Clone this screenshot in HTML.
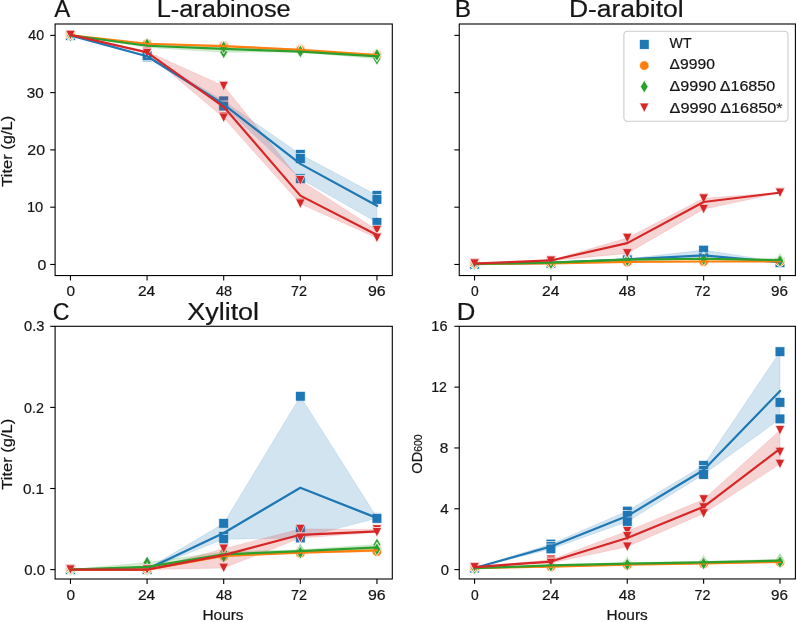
<!DOCTYPE html>
<html><head><meta charset="utf-8"><title>Figure</title><style>
html,body{margin:0;padding:0;background:#fff;}
svg{display:block;}
text{font-family:"Liberation Sans",sans-serif;fill:#151515;stroke:#151515;stroke-width:0.2px;}
.tk{font-size:14.1px;}
.lb{font-size:14.1px;}
.lg{font-size:14.1px;}
.tt{font-size:23.0px;}
</style></head>
<body>
<svg width="797" height="622" viewBox="0 0 797 622">
<rect width="797" height="622" fill="#fff"/>
<g style="will-change:transform">
<clipPath id="clipA"><rect x="55.1" y="24" width="337.2" height="251.57"/></clipPath>
<g clip-path="url(#clipA)">
<rect x="65.57" y="30.48" width="9.79" height="9.79" fill="#1f77b4" stroke="#fff" stroke-width="0.7"/>
<rect x="65.57" y="30.48" width="9.79" height="9.79" fill="#1f77b4" stroke="#fff" stroke-width="0.7"/>
<rect x="65.57" y="30.48" width="9.79" height="9.79" fill="#1f77b4" stroke="#fff" stroke-width="0.7"/>
<rect x="142.19" y="52.24" width="9.79" height="9.79" fill="#1f77b4" stroke="#fff" stroke-width="0.7"/>
<rect x="142.19" y="51.38" width="9.79" height="9.79" fill="#1f77b4" stroke="#fff" stroke-width="0.7"/>
<rect x="142.19" y="50.52" width="9.79" height="9.79" fill="#1f77b4" stroke="#fff" stroke-width="0.7"/>
<rect x="218.81" y="96" width="9.79" height="9.79" fill="#1f77b4" stroke="#fff" stroke-width="0.7"/>
<rect x="218.81" y="101.04" width="9.79" height="9.79" fill="#1f77b4" stroke="#fff" stroke-width="0.7"/>
<rect x="218.81" y="101.15" width="9.79" height="9.79" fill="#1f77b4" stroke="#fff" stroke-width="0.7"/>
<rect x="295.43" y="149.43" width="9.79" height="9.79" fill="#1f77b4" stroke="#fff" stroke-width="0.7"/>
<rect x="295.43" y="153.61" width="9.79" height="9.79" fill="#1f77b4" stroke="#fff" stroke-width="0.7"/>
<rect x="295.43" y="173.83" width="9.79" height="9.79" fill="#1f77b4" stroke="#fff" stroke-width="0.7"/>
<rect x="372.06" y="190.44" width="9.79" height="9.79" fill="#1f77b4" stroke="#fff" stroke-width="0.7"/>
<rect x="372.06" y="194.45" width="9.79" height="9.79" fill="#1f77b4" stroke="#fff" stroke-width="0.7"/>
<rect x="372.06" y="217.53" width="9.79" height="9.79" fill="#1f77b4" stroke="#fff" stroke-width="0.7"/>
<polygon points="70.46,35.37 147.08,55.41 223.7,100.89 300.33,154.32 376.95,195.33 376.95,222.42 300.33,178.72 223.7,106.04 147.08,57.13 70.46,35.37" fill="#1f77b4" fill-opacity="0.2" stroke="#1f77b4" stroke-opacity="0.12" stroke-width="1"/>
<circle cx="70.46" cy="35.08" r="4.75" fill="#ff7f0e" stroke="#fff" stroke-width="0.7"/>
<circle cx="70.46" cy="35.37" r="4.75" fill="#ff7f0e" stroke="#fff" stroke-width="0.7"/>
<circle cx="70.46" cy="35.37" r="4.75" fill="#ff7f0e" stroke="#fff" stroke-width="0.7"/>
<circle cx="147.08" cy="43.39" r="4.75" fill="#ff7f0e" stroke="#fff" stroke-width="0.7"/>
<circle cx="147.08" cy="43.96" r="4.75" fill="#ff7f0e" stroke="#fff" stroke-width="0.7"/>
<circle cx="147.08" cy="43.96" r="4.75" fill="#ff7f0e" stroke="#fff" stroke-width="0.7"/>
<circle cx="223.7" cy="45.39" r="4.75" fill="#ff7f0e" stroke="#fff" stroke-width="0.7"/>
<circle cx="223.7" cy="46.25" r="4.75" fill="#ff7f0e" stroke="#fff" stroke-width="0.7"/>
<circle cx="223.7" cy="46.54" r="4.75" fill="#ff7f0e" stroke="#fff" stroke-width="0.7"/>
<circle cx="300.33" cy="49.11" r="4.75" fill="#ff7f0e" stroke="#fff" stroke-width="0.7"/>
<circle cx="300.33" cy="49.97" r="4.75" fill="#ff7f0e" stroke="#fff" stroke-width="0.7"/>
<circle cx="300.33" cy="50.26" r="4.75" fill="#ff7f0e" stroke="#fff" stroke-width="0.7"/>
<circle cx="376.95" cy="54.27" r="4.75" fill="#ff7f0e" stroke="#fff" stroke-width="0.7"/>
<circle cx="376.95" cy="55.13" r="4.75" fill="#ff7f0e" stroke="#fff" stroke-width="0.7"/>
<circle cx="376.95" cy="55.99" r="4.75" fill="#ff7f0e" stroke="#fff" stroke-width="0.7"/>
<polygon points="70.46,35.08 147.08,43.39 223.7,45.39 300.33,49.11 376.95,54.27 376.95,55.99 300.33,50.26 223.7,46.54 147.08,43.96 70.46,35.37" fill="#ff7f0e" fill-opacity="0.2" stroke="#ff7f0e" stroke-opacity="0.12" stroke-width="1"/>
<polygon points="70.46,28.99 74.29,35.37 70.46,41.75 66.63,35.37" fill="#2ca02c" stroke="#fff" stroke-width="0.7"/>
<polygon points="70.46,28.99 74.29,35.37 70.46,41.75 66.63,35.37" fill="#2ca02c" stroke="#fff" stroke-width="0.7"/>
<polygon points="70.46,28.99 74.29,35.37 70.46,41.75 66.63,35.37" fill="#2ca02c" stroke="#fff" stroke-width="0.7"/>
<polygon points="147.08,41.01 150.91,47.4 147.08,53.78 143.25,47.4" fill="#2ca02c" stroke="#fff" stroke-width="0.7"/>
<polygon points="147.08,39.3 150.91,45.68 147.08,52.06 143.25,45.68" fill="#2ca02c" stroke="#fff" stroke-width="0.7"/>
<polygon points="147.08,37.86 150.91,44.25 147.08,50.63 143.25,44.25" fill="#2ca02c" stroke="#fff" stroke-width="0.7"/>
<polygon points="223.7,45.88 227.53,52.26 223.7,58.65 219.88,52.26" fill="#2ca02c" stroke="#fff" stroke-width="0.7"/>
<polygon points="223.7,41.01 227.53,47.4 223.7,53.78 219.88,47.4" fill="#2ca02c" stroke="#fff" stroke-width="0.7"/>
<polygon points="223.7,40.67 227.53,47.05 223.7,53.43 219.88,47.05" fill="#2ca02c" stroke="#fff" stroke-width="0.7"/>
<polygon points="300.33,45.6 304.16,51.98 300.33,58.36 296.5,51.98" fill="#2ca02c" stroke="#fff" stroke-width="0.7"/>
<polygon points="300.33,45.02 304.16,51.4 300.33,57.79 296.5,51.4" fill="#2ca02c" stroke="#fff" stroke-width="0.7"/>
<polygon points="300.33,45.02 304.16,51.4 300.33,57.79 296.5,51.4" fill="#2ca02c" stroke="#fff" stroke-width="0.7"/>
<polygon points="376.95,52.47 380.78,58.85 376.95,65.23 373.12,58.85" fill="#2ca02c" stroke="#fff" stroke-width="0.7"/>
<polygon points="376.95,49.03 380.78,55.41 376.95,61.8 373.12,55.41" fill="#2ca02c" stroke="#fff" stroke-width="0.7"/>
<polygon points="376.95,48.46 380.78,54.84 376.95,61.22 373.12,54.84" fill="#2ca02c" stroke="#fff" stroke-width="0.7"/>
<polygon points="70.46,35.37 147.08,44.25 223.7,47.05 300.33,51.4 376.95,54.84 376.95,58.85 300.33,51.98 223.7,52.26 147.08,47.4 70.46,35.37" fill="#2ca02c" fill-opacity="0.2" stroke="#2ca02c" stroke-opacity="0.12" stroke-width="1"/>
<polygon points="65.71,30.05 75.21,30.05 70.46,39.55" fill="#d62728" stroke="#fff" stroke-width="0.7"/>
<polygon points="65.71,30.05 75.21,30.05 70.46,39.55" fill="#d62728" stroke="#fff" stroke-width="0.7"/>
<polygon points="65.71,30.33 75.21,30.33 70.46,39.83" fill="#d62728" stroke="#fff" stroke-width="0.7"/>
<polygon points="142.33,46.65 151.83,46.65 147.08,56.15" fill="#d62728" stroke="#fff" stroke-width="0.7"/>
<polygon points="142.33,47.8 151.83,47.8 147.08,57.3" fill="#d62728" stroke="#fff" stroke-width="0.7"/>
<polygon points="142.33,48.37 151.83,48.37 147.08,57.87" fill="#d62728" stroke="#fff" stroke-width="0.7"/>
<polygon points="218.95,81.25 228.45,81.25 223.7,90.75" fill="#d62728" stroke="#fff" stroke-width="0.7"/>
<polygon points="218.95,111.95 228.45,111.95 223.7,121.45" fill="#d62728" stroke="#fff" stroke-width="0.7"/>
<polygon points="218.95,113.09 228.45,113.09 223.7,122.59" fill="#d62728" stroke="#fff" stroke-width="0.7"/>
<polygon points="295.58,175.52 305.08,175.52 300.33,185.02" fill="#d62728" stroke="#fff" stroke-width="0.7"/>
<polygon points="295.58,198.14 305.08,198.14 300.33,207.64" fill="#d62728" stroke="#fff" stroke-width="0.7"/>
<polygon points="295.58,199 305.08,199 300.33,208.5" fill="#d62728" stroke="#fff" stroke-width="0.7"/>
<polygon points="372.2,225.35 381.7,225.35 376.95,234.85" fill="#d62728" stroke="#fff" stroke-width="0.7"/>
<polygon points="372.2,232.51 381.7,232.51 376.95,242.01" fill="#d62728" stroke="#fff" stroke-width="0.7"/>
<polygon points="372.2,233.14 381.7,233.14 376.95,242.64" fill="#d62728" stroke="#fff" stroke-width="0.7"/>
<polygon points="70.46,34.8 147.08,51.4 223.7,86 300.33,180.27 376.95,230.1 376.95,237.89 300.33,203.75 223.7,117.84 147.08,53.12 70.46,35.08" fill="#d62728" fill-opacity="0.2" stroke="#d62728" stroke-opacity="0.12" stroke-width="1"/>
<polyline points="70.46,35.37 147.08,56.27 223.7,104.29 300.33,163.85 376.95,205.7" fill="none" stroke="#1f77b4" stroke-width="2.2" stroke-linejoin="round" stroke-linecap="square"/>
<polyline points="70.46,35.27 147.08,43.77 223.7,46.06 300.33,49.78 376.95,55.13" fill="none" stroke="#ff7f0e" stroke-width="2.2" stroke-linejoin="round" stroke-linecap="square"/>
<polyline points="70.46,35.37 147.08,45.77 223.7,48.9 300.33,51.6 376.95,56.37" fill="none" stroke="#2ca02c" stroke-width="2.2" stroke-linejoin="round" stroke-linecap="square"/>
<polyline points="70.46,34.89 147.08,52.36 223.7,106.84 300.33,195.64 376.95,235.08" fill="none" stroke="#d62728" stroke-width="2.2" stroke-linejoin="round" stroke-linecap="square"/>
</g>
<rect x="55.1" y="24" width="337.2" height="251.57" fill="none" stroke="#000" stroke-width="1.1"/>
<line x1="70.46" y1="275.57" x2="70.46" y2="280.47" stroke="#000" stroke-width="1.1"/>
<line x1="147.08" y1="275.57" x2="147.08" y2="280.47" stroke="#000" stroke-width="1.1"/>
<line x1="223.7" y1="275.57" x2="223.7" y2="280.47" stroke="#000" stroke-width="1.1"/>
<line x1="300.33" y1="275.57" x2="300.33" y2="280.47" stroke="#000" stroke-width="1.1"/>
<line x1="376.95" y1="275.57" x2="376.95" y2="280.47" stroke="#000" stroke-width="1.1"/>
<clipPath id="clipB"><rect x="459.25" y="24" width="336.15" height="251.57"/></clipPath>
<g clip-path="url(#clipB)">
<rect x="469.67" y="258.99" width="9.79" height="9.79" fill="#1f77b4" stroke="#fff" stroke-width="0.7"/>
<rect x="469.67" y="259.28" width="9.79" height="9.79" fill="#1f77b4" stroke="#fff" stroke-width="0.7"/>
<rect x="469.67" y="259.28" width="9.79" height="9.79" fill="#1f77b4" stroke="#fff" stroke-width="0.7"/>
<rect x="546.02" y="257.56" width="9.79" height="9.79" fill="#1f77b4" stroke="#fff" stroke-width="0.7"/>
<rect x="546.02" y="258.14" width="9.79" height="9.79" fill="#1f77b4" stroke="#fff" stroke-width="0.7"/>
<rect x="546.02" y="258.42" width="9.79" height="9.79" fill="#1f77b4" stroke="#fff" stroke-width="0.7"/>
<rect x="622.38" y="253.84" width="9.79" height="9.79" fill="#1f77b4" stroke="#fff" stroke-width="0.7"/>
<rect x="622.38" y="254.41" width="9.79" height="9.79" fill="#1f77b4" stroke="#fff" stroke-width="0.7"/>
<rect x="622.38" y="254.99" width="9.79" height="9.79" fill="#1f77b4" stroke="#fff" stroke-width="0.7"/>
<rect x="698.74" y="245.19" width="9.79" height="9.79" fill="#1f77b4" stroke="#fff" stroke-width="0.7"/>
<rect x="698.74" y="252.98" width="9.79" height="9.79" fill="#1f77b4" stroke="#fff" stroke-width="0.7"/>
<rect x="698.74" y="252.98" width="9.79" height="9.79" fill="#1f77b4" stroke="#fff" stroke-width="0.7"/>
<rect x="775.09" y="256.99" width="9.79" height="9.79" fill="#1f77b4" stroke="#fff" stroke-width="0.7"/>
<rect x="775.09" y="257.56" width="9.79" height="9.79" fill="#1f77b4" stroke="#fff" stroke-width="0.7"/>
<rect x="775.09" y="257.85" width="9.79" height="9.79" fill="#1f77b4" stroke="#fff" stroke-width="0.7"/>
<polygon points="474.56,263.89 550.92,262.46 627.27,258.73 703.63,250.08 779.98,261.88 779.98,262.74 703.63,257.87 627.27,259.88 550.92,263.31 474.56,264.17" fill="#1f77b4" fill-opacity="0.2" stroke="#1f77b4" stroke-opacity="0.12" stroke-width="1"/>
<circle cx="474.56" cy="263.89" r="4.75" fill="#ff7f0e" stroke="#fff" stroke-width="0.7"/>
<circle cx="474.56" cy="263.89" r="4.75" fill="#ff7f0e" stroke="#fff" stroke-width="0.7"/>
<circle cx="474.56" cy="263.89" r="4.75" fill="#ff7f0e" stroke="#fff" stroke-width="0.7"/>
<circle cx="550.92" cy="263.31" r="4.75" fill="#ff7f0e" stroke="#fff" stroke-width="0.7"/>
<circle cx="550.92" cy="263.6" r="4.75" fill="#ff7f0e" stroke="#fff" stroke-width="0.7"/>
<circle cx="550.92" cy="263.6" r="4.75" fill="#ff7f0e" stroke="#fff" stroke-width="0.7"/>
<circle cx="627.27" cy="261.6" r="4.75" fill="#ff7f0e" stroke="#fff" stroke-width="0.7"/>
<circle cx="627.27" cy="261.88" r="4.75" fill="#ff7f0e" stroke="#fff" stroke-width="0.7"/>
<circle cx="627.27" cy="262.17" r="4.75" fill="#ff7f0e" stroke="#fff" stroke-width="0.7"/>
<circle cx="703.63" cy="261.31" r="4.75" fill="#ff7f0e" stroke="#fff" stroke-width="0.7"/>
<circle cx="703.63" cy="261.6" r="4.75" fill="#ff7f0e" stroke="#fff" stroke-width="0.7"/>
<circle cx="703.63" cy="261.6" r="4.75" fill="#ff7f0e" stroke="#fff" stroke-width="0.7"/>
<circle cx="779.98" cy="261.02" r="4.75" fill="#ff7f0e" stroke="#fff" stroke-width="0.7"/>
<circle cx="779.98" cy="261.31" r="4.75" fill="#ff7f0e" stroke="#fff" stroke-width="0.7"/>
<circle cx="779.98" cy="261.6" r="4.75" fill="#ff7f0e" stroke="#fff" stroke-width="0.7"/>
<polygon points="474.56,263.89 550.92,263.31 627.27,261.6 703.63,261.31 779.98,261.02 779.98,261.6 703.63,261.6 627.27,262.17 550.92,263.6 474.56,263.89" fill="#ff7f0e" fill-opacity="0.2" stroke="#ff7f0e" stroke-opacity="0.12" stroke-width="1"/>
<polygon points="474.56,257.51 478.39,263.89 474.56,270.27 470.73,263.89" fill="#2ca02c" stroke="#fff" stroke-width="0.7"/>
<polygon points="474.56,257.51 478.39,263.89 474.56,270.27 470.73,263.89" fill="#2ca02c" stroke="#fff" stroke-width="0.7"/>
<polygon points="474.56,257.51 478.39,263.89 474.56,270.27 470.73,263.89" fill="#2ca02c" stroke="#fff" stroke-width="0.7"/>
<polygon points="550.92,255.21 554.74,261.6 550.92,267.98 547.09,261.6" fill="#2ca02c" stroke="#fff" stroke-width="0.7"/>
<polygon points="550.92,256.36 554.74,262.74 550.92,269.12 547.09,262.74" fill="#2ca02c" stroke="#fff" stroke-width="0.7"/>
<polygon points="550.92,256.93 554.74,263.31 550.92,269.7 547.09,263.31" fill="#2ca02c" stroke="#fff" stroke-width="0.7"/>
<polygon points="627.27,252.64 631.1,259.02 627.27,265.4 623.44,259.02" fill="#2ca02c" stroke="#fff" stroke-width="0.7"/>
<polygon points="627.27,253.21 631.1,259.59 627.27,265.97 623.44,259.59" fill="#2ca02c" stroke="#fff" stroke-width="0.7"/>
<polygon points="627.27,253.95 631.1,260.34 627.27,266.72 623.44,260.34" fill="#2ca02c" stroke="#fff" stroke-width="0.7"/>
<polygon points="703.63,251.78 707.46,258.16 703.63,264.54 699.8,258.16" fill="#2ca02c" stroke="#fff" stroke-width="0.7"/>
<polygon points="703.63,252.35 707.46,258.73 703.63,265.11 699.8,258.73" fill="#2ca02c" stroke="#fff" stroke-width="0.7"/>
<polygon points="703.63,252.92 707.46,259.31 703.63,265.69 699.8,259.31" fill="#2ca02c" stroke="#fff" stroke-width="0.7"/>
<polygon points="779.98,252.92 783.81,259.31 779.98,265.69 776.16,259.31" fill="#2ca02c" stroke="#fff" stroke-width="0.7"/>
<polygon points="779.98,253.5 783.81,259.88 779.98,266.26 776.16,259.88" fill="#2ca02c" stroke="#fff" stroke-width="0.7"/>
<polygon points="779.98,254.64 783.81,261.02 779.98,267.41 776.16,261.02" fill="#2ca02c" stroke="#fff" stroke-width="0.7"/>
<polygon points="474.56,263.89 550.92,261.6 627.27,259.02 703.63,258.16 779.98,259.31 779.98,261.02 703.63,259.31 627.27,260.34 550.92,263.31 474.56,263.89" fill="#2ca02c" fill-opacity="0.2" stroke="#2ca02c" stroke-opacity="0.12" stroke-width="1"/>
<polygon points="469.81,258.56 479.31,258.56 474.56,268.06" fill="#d62728" stroke="#fff" stroke-width="0.7"/>
<polygon points="469.81,258.85 479.31,258.85 474.56,268.35" fill="#d62728" stroke="#fff" stroke-width="0.7"/>
<polygon points="469.81,258.85 479.31,258.85 474.56,268.35" fill="#d62728" stroke="#fff" stroke-width="0.7"/>
<polygon points="546.17,255.41 555.67,255.41 550.92,264.91" fill="#d62728" stroke="#fff" stroke-width="0.7"/>
<polygon points="546.17,255.7 555.67,255.7 550.92,265.2" fill="#d62728" stroke="#fff" stroke-width="0.7"/>
<polygon points="546.17,255.99 555.67,255.99 550.92,265.49" fill="#d62728" stroke="#fff" stroke-width="0.7"/>
<polygon points="622.52,233.25 632.02,233.25 627.27,242.75" fill="#d62728" stroke="#fff" stroke-width="0.7"/>
<polygon points="622.52,233.25 632.02,233.25 627.27,242.75" fill="#d62728" stroke="#fff" stroke-width="0.7"/>
<polygon points="622.52,248.71 632.02,248.71 627.27,258.21" fill="#d62728" stroke="#fff" stroke-width="0.7"/>
<polygon points="698.88,193.56 708.38,193.56 703.63,203.06" fill="#d62728" stroke="#fff" stroke-width="0.7"/>
<polygon points="698.88,193.85 708.38,193.85 703.63,203.35" fill="#d62728" stroke="#fff" stroke-width="0.7"/>
<polygon points="698.88,204.38 708.38,204.38 703.63,213.88" fill="#d62728" stroke="#fff" stroke-width="0.7"/>
<polygon points="775.23,187.66 784.73,187.66 779.98,197.16" fill="#d62728" stroke="#fff" stroke-width="0.7"/>
<polygon points="775.23,187.83 784.73,187.83 779.98,197.33" fill="#d62728" stroke="#fff" stroke-width="0.7"/>
<polygon points="775.23,188.12 784.73,188.12 779.98,197.62" fill="#d62728" stroke="#fff" stroke-width="0.7"/>
<polygon points="474.56,263.31 550.92,260.16 627.27,238 703.63,198.31 779.98,192.41 779.98,192.87 703.63,209.13 627.27,253.46 550.92,260.74 474.56,263.6" fill="#d62728" fill-opacity="0.2" stroke="#d62728" stroke-opacity="0.12" stroke-width="1"/>
<polyline points="474.56,264.08 550.92,262.93 627.27,259.31 703.63,255.28 779.98,262.36" fill="none" stroke="#1f77b4" stroke-width="2.2" stroke-linejoin="round" stroke-linecap="square"/>
<polyline points="474.56,263.89 550.92,263.51 627.27,261.88 703.63,261.5 779.98,261.31" fill="none" stroke="#ff7f0e" stroke-width="2.2" stroke-linejoin="round" stroke-linecap="square"/>
<polyline points="474.56,263.89 550.92,262.55 627.27,259.65 703.63,258.73 779.98,260.07" fill="none" stroke="#2ca02c" stroke-width="2.2" stroke-linejoin="round" stroke-linecap="square"/>
<polyline points="474.56,263.51 550.92,260.45 627.27,243.15 703.63,202.01 779.98,192.62" fill="none" stroke="#d62728" stroke-width="2.2" stroke-linejoin="round" stroke-linecap="square"/>
</g>
<rect x="459.25" y="24" width="336.15" height="251.57" fill="none" stroke="#000" stroke-width="1.1"/>
<line x1="474.56" y1="275.57" x2="474.56" y2="280.47" stroke="#000" stroke-width="1.1"/>
<line x1="550.92" y1="275.57" x2="550.92" y2="280.47" stroke="#000" stroke-width="1.1"/>
<line x1="627.27" y1="275.57" x2="627.27" y2="280.47" stroke="#000" stroke-width="1.1"/>
<line x1="703.63" y1="275.57" x2="703.63" y2="280.47" stroke="#000" stroke-width="1.1"/>
<line x1="779.98" y1="275.57" x2="779.98" y2="280.47" stroke="#000" stroke-width="1.1"/>
<clipPath id="clipC"><rect x="55.1" y="326.3" width="337.2" height="252.7"/></clipPath>
<g clip-path="url(#clipC)">
<rect x="65.57" y="564.71" width="9.79" height="9.79" fill="#1f77b4" stroke="#fff" stroke-width="0.7"/>
<rect x="65.57" y="564.71" width="9.79" height="9.79" fill="#1f77b4" stroke="#fff" stroke-width="0.7"/>
<rect x="65.57" y="564.71" width="9.79" height="9.79" fill="#1f77b4" stroke="#fff" stroke-width="0.7"/>
<rect x="142.19" y="563.9" width="9.79" height="9.79" fill="#1f77b4" stroke="#fff" stroke-width="0.7"/>
<rect x="142.19" y="564.71" width="9.79" height="9.79" fill="#1f77b4" stroke="#fff" stroke-width="0.7"/>
<rect x="142.19" y="564.71" width="9.79" height="9.79" fill="#1f77b4" stroke="#fff" stroke-width="0.7"/>
<rect x="218.81" y="518.4" width="9.79" height="9.79" fill="#1f77b4" stroke="#fff" stroke-width="0.7"/>
<rect x="218.81" y="531.46" width="9.79" height="9.79" fill="#1f77b4" stroke="#fff" stroke-width="0.7"/>
<rect x="218.81" y="534.38" width="9.79" height="9.79" fill="#1f77b4" stroke="#fff" stroke-width="0.7"/>
<rect x="295.43" y="391.32" width="9.79" height="9.79" fill="#1f77b4" stroke="#fff" stroke-width="0.7"/>
<rect x="295.43" y="524.16" width="9.79" height="9.79" fill="#1f77b4" stroke="#fff" stroke-width="0.7"/>
<rect x="295.43" y="533.08" width="9.79" height="9.79" fill="#1f77b4" stroke="#fff" stroke-width="0.7"/>
<rect x="372.06" y="512.64" width="9.79" height="9.79" fill="#1f77b4" stroke="#fff" stroke-width="0.7"/>
<rect x="372.06" y="513.13" width="9.79" height="9.79" fill="#1f77b4" stroke="#fff" stroke-width="0.7"/>
<rect x="372.06" y="513.45" width="9.79" height="9.79" fill="#1f77b4" stroke="#fff" stroke-width="0.7"/>
<polygon points="70.46,569.6 147.08,568.79 223.7,523.29 300.33,396.21 376.95,517.53 376.95,518.34 300.33,537.97 223.7,539.27 147.08,569.6 70.46,569.6" fill="#1f77b4" fill-opacity="0.2" stroke="#1f77b4" stroke-opacity="0.12" stroke-width="1"/>
<circle cx="70.46" cy="569.6" r="4.75" fill="#ff7f0e" stroke="#fff" stroke-width="0.7"/>
<circle cx="70.46" cy="569.6" r="4.75" fill="#ff7f0e" stroke="#fff" stroke-width="0.7"/>
<circle cx="70.46" cy="569.6" r="4.75" fill="#ff7f0e" stroke="#fff" stroke-width="0.7"/>
<circle cx="147.08" cy="569.6" r="4.75" fill="#ff7f0e" stroke="#fff" stroke-width="0.7"/>
<circle cx="147.08" cy="569.6" r="4.75" fill="#ff7f0e" stroke="#fff" stroke-width="0.7"/>
<circle cx="147.08" cy="569.6" r="4.75" fill="#ff7f0e" stroke="#fff" stroke-width="0.7"/>
<circle cx="223.7" cy="555" r="4.75" fill="#ff7f0e" stroke="#fff" stroke-width="0.7"/>
<circle cx="223.7" cy="555.81" r="4.75" fill="#ff7f0e" stroke="#fff" stroke-width="0.7"/>
<circle cx="223.7" cy="556.62" r="4.75" fill="#ff7f0e" stroke="#fff" stroke-width="0.7"/>
<circle cx="300.33" cy="551.76" r="4.75" fill="#ff7f0e" stroke="#fff" stroke-width="0.7"/>
<circle cx="300.33" cy="552.57" r="4.75" fill="#ff7f0e" stroke="#fff" stroke-width="0.7"/>
<circle cx="300.33" cy="553.38" r="4.75" fill="#ff7f0e" stroke="#fff" stroke-width="0.7"/>
<circle cx="376.95" cy="549.33" r="4.75" fill="#ff7f0e" stroke="#fff" stroke-width="0.7"/>
<circle cx="376.95" cy="550.14" r="4.75" fill="#ff7f0e" stroke="#fff" stroke-width="0.7"/>
<circle cx="376.95" cy="551.76" r="4.75" fill="#ff7f0e" stroke="#fff" stroke-width="0.7"/>
<polygon points="70.46,569.6 147.08,569.6 223.7,555 300.33,551.76 376.95,549.33 376.95,551.76 300.33,553.38 223.7,556.62 147.08,569.6 70.46,569.6" fill="#ff7f0e" fill-opacity="0.2" stroke="#ff7f0e" stroke-opacity="0.12" stroke-width="1"/>
<polygon points="70.46,563.22 74.29,569.6 70.46,575.98 66.63,569.6" fill="#2ca02c" stroke="#fff" stroke-width="0.7"/>
<polygon points="70.46,563.22 74.29,569.6 70.46,575.98 66.63,569.6" fill="#2ca02c" stroke="#fff" stroke-width="0.7"/>
<polygon points="70.46,563.22 74.29,569.6 70.46,575.98 66.63,569.6" fill="#2ca02c" stroke="#fff" stroke-width="0.7"/>
<polygon points="147.08,556.08 150.91,562.46 147.08,568.84 143.25,562.46" fill="#2ca02c" stroke="#fff" stroke-width="0.7"/>
<polygon points="147.08,562.41 150.91,568.79 147.08,575.17 143.25,568.79" fill="#2ca02c" stroke="#fff" stroke-width="0.7"/>
<polygon points="147.08,563.22 150.91,569.6 147.08,575.98 143.25,569.6" fill="#2ca02c" stroke="#fff" stroke-width="0.7"/>
<polygon points="223.7,545.38 227.53,551.76 223.7,558.14 219.88,551.76" fill="#2ca02c" stroke="#fff" stroke-width="0.7"/>
<polygon points="223.7,548.62 227.53,555 223.7,561.38 219.88,555" fill="#2ca02c" stroke="#fff" stroke-width="0.7"/>
<polygon points="223.7,550.24 227.53,556.62 223.7,563.01 219.88,556.62" fill="#2ca02c" stroke="#fff" stroke-width="0.7"/>
<polygon points="300.33,543.35 304.16,549.73 300.33,556.11 296.5,549.73" fill="#2ca02c" stroke="#fff" stroke-width="0.7"/>
<polygon points="300.33,544.57 304.16,550.95 300.33,557.33 296.5,550.95" fill="#2ca02c" stroke="#fff" stroke-width="0.7"/>
<polygon points="300.33,546.19 304.16,552.57 300.33,558.95 296.5,552.57" fill="#2ca02c" stroke="#fff" stroke-width="0.7"/>
<polygon points="376.95,538.08 380.78,544.46 376.95,550.84 373.12,544.46" fill="#2ca02c" stroke="#fff" stroke-width="0.7"/>
<polygon points="376.95,542.13 380.78,548.51 376.95,554.9 373.12,548.51" fill="#2ca02c" stroke="#fff" stroke-width="0.7"/>
<polygon points="376.95,542.94 380.78,549.33 376.95,555.71 373.12,549.33" fill="#2ca02c" stroke="#fff" stroke-width="0.7"/>
<polygon points="70.46,569.6 147.08,562.46 223.7,551.76 300.33,549.73 376.95,544.46 376.95,549.33 300.33,552.57 223.7,556.62 147.08,569.6 70.46,569.6" fill="#2ca02c" fill-opacity="0.2" stroke="#2ca02c" stroke-opacity="0.12" stroke-width="1"/>
<polygon points="65.71,564.85 75.21,564.85 70.46,574.35" fill="#d62728" stroke="#fff" stroke-width="0.7"/>
<polygon points="65.71,564.85 75.21,564.85 70.46,574.35" fill="#d62728" stroke="#fff" stroke-width="0.7"/>
<polygon points="65.71,564.85 75.21,564.85 70.46,574.35" fill="#d62728" stroke="#fff" stroke-width="0.7"/>
<polygon points="142.33,564.85 151.83,564.85 147.08,574.35" fill="#d62728" stroke="#fff" stroke-width="0.7"/>
<polygon points="142.33,564.85 151.83,564.85 147.08,574.35" fill="#d62728" stroke="#fff" stroke-width="0.7"/>
<polygon points="142.33,564.85 151.83,564.85 147.08,574.35" fill="#d62728" stroke="#fff" stroke-width="0.7"/>
<polygon points="218.95,543.93 228.45,543.93 223.7,553.43" fill="#d62728" stroke="#fff" stroke-width="0.7"/>
<polygon points="218.95,544.09 228.45,544.09 223.7,553.59" fill="#d62728" stroke="#fff" stroke-width="0.7"/>
<polygon points="218.95,563.23 228.45,563.23 223.7,572.73" fill="#d62728" stroke="#fff" stroke-width="0.7"/>
<polygon points="295.58,524.22 305.08,524.22 300.33,533.72" fill="#d62728" stroke="#fff" stroke-width="0.7"/>
<polygon points="295.58,532.65 305.08,532.65 300.33,542.15" fill="#d62728" stroke="#fff" stroke-width="0.7"/>
<polygon points="295.58,533.3 305.08,533.3 300.33,542.8" fill="#d62728" stroke="#fff" stroke-width="0.7"/>
<polygon points="372.2,524.71 381.7,524.71 376.95,534.21" fill="#d62728" stroke="#fff" stroke-width="0.7"/>
<polygon points="372.2,527.54 381.7,527.54 376.95,537.04" fill="#d62728" stroke="#fff" stroke-width="0.7"/>
<polygon points="372.2,527.54 381.7,527.54 376.95,537.04" fill="#d62728" stroke="#fff" stroke-width="0.7"/>
<polygon points="70.46,569.6 147.08,569.6 223.7,548.68 300.33,528.97 376.95,529.46 376.95,532.29 300.33,538.05 223.7,567.98 147.08,569.6 70.46,569.6" fill="#d62728" fill-opacity="0.2" stroke="#d62728" stroke-opacity="0.12" stroke-width="1"/>
<polyline points="70.46,569.6 147.08,569.33 223.7,532.97 300.33,487.74 376.95,517.97" fill="none" stroke="#1f77b4" stroke-width="2.2" stroke-linejoin="round" stroke-linecap="square"/>
<polyline points="70.46,569.6 147.08,569.6 223.7,555.81 300.33,552.57 376.95,550.41" fill="none" stroke="#ff7f0e" stroke-width="2.2" stroke-linejoin="round" stroke-linecap="square"/>
<polyline points="70.46,569.6 147.08,566.95 223.7,554.46 300.33,551.08 376.95,547.43" fill="none" stroke="#2ca02c" stroke-width="2.2" stroke-linejoin="round" stroke-linecap="square"/>
<polyline points="70.46,569.6 147.08,569.6 223.7,555.16 300.33,534.81 376.95,531.35" fill="none" stroke="#d62728" stroke-width="2.2" stroke-linejoin="round" stroke-linecap="square"/>
</g>
<rect x="55.1" y="326.3" width="337.2" height="252.7" fill="none" stroke="#000" stroke-width="1.1"/>
<line x1="70.46" y1="579" x2="70.46" y2="583.9" stroke="#000" stroke-width="1.1"/>
<line x1="147.08" y1="579" x2="147.08" y2="583.9" stroke="#000" stroke-width="1.1"/>
<line x1="223.7" y1="579" x2="223.7" y2="583.9" stroke="#000" stroke-width="1.1"/>
<line x1="300.33" y1="579" x2="300.33" y2="583.9" stroke="#000" stroke-width="1.1"/>
<line x1="376.95" y1="579" x2="376.95" y2="583.9" stroke="#000" stroke-width="1.1"/>
<clipPath id="clipD"><rect x="459.25" y="326.3" width="336.15" height="252.65"/></clipPath>
<g clip-path="url(#clipD)">
<rect x="469.67" y="562.88" width="9.79" height="9.79" fill="#1f77b4" stroke="#fff" stroke-width="0.7"/>
<rect x="469.67" y="563.19" width="9.79" height="9.79" fill="#1f77b4" stroke="#fff" stroke-width="0.7"/>
<rect x="469.67" y="563.19" width="9.79" height="9.79" fill="#1f77b4" stroke="#fff" stroke-width="0.7"/>
<rect x="546.02" y="539.16" width="9.79" height="9.79" fill="#1f77b4" stroke="#fff" stroke-width="0.7"/>
<rect x="546.02" y="541.44" width="9.79" height="9.79" fill="#1f77b4" stroke="#fff" stroke-width="0.7"/>
<rect x="546.02" y="544.03" width="9.79" height="9.79" fill="#1f77b4" stroke="#fff" stroke-width="0.7"/>
<rect x="622.38" y="506.16" width="9.79" height="9.79" fill="#1f77b4" stroke="#fff" stroke-width="0.7"/>
<rect x="622.38" y="510.42" width="9.79" height="9.79" fill="#1f77b4" stroke="#fff" stroke-width="0.7"/>
<rect x="622.38" y="516.96" width="9.79" height="9.79" fill="#1f77b4" stroke="#fff" stroke-width="0.7"/>
<rect x="698.74" y="460.39" width="9.79" height="9.79" fill="#1f77b4" stroke="#fff" stroke-width="0.7"/>
<rect x="698.74" y="465.41" width="9.79" height="9.79" fill="#1f77b4" stroke="#fff" stroke-width="0.7"/>
<rect x="698.74" y="469.52" width="9.79" height="9.79" fill="#1f77b4" stroke="#fff" stroke-width="0.7"/>
<rect x="775.09" y="346.81" width="9.79" height="9.79" fill="#1f77b4" stroke="#fff" stroke-width="0.7"/>
<rect x="775.09" y="397.44" width="9.79" height="9.79" fill="#1f77b4" stroke="#fff" stroke-width="0.7"/>
<rect x="775.09" y="414.02" width="9.79" height="9.79" fill="#1f77b4" stroke="#fff" stroke-width="0.7"/>
<polygon points="474.56,567.78 550.92,544.05 627.27,511.06 703.63,465.29 779.98,351.7 779.98,418.91 703.63,474.41 627.27,521.85 550.92,548.92 474.56,568.08" fill="#1f77b4" fill-opacity="0.2" stroke="#1f77b4" stroke-opacity="0.12" stroke-width="1"/>
<circle cx="474.56" cy="568.08" r="4.75" fill="#ff7f0e" stroke="#fff" stroke-width="0.7"/>
<circle cx="474.56" cy="568.08" r="4.75" fill="#ff7f0e" stroke="#fff" stroke-width="0.7"/>
<circle cx="474.56" cy="568.08" r="4.75" fill="#ff7f0e" stroke="#fff" stroke-width="0.7"/>
<circle cx="550.92" cy="566.25" r="4.75" fill="#ff7f0e" stroke="#fff" stroke-width="0.7"/>
<circle cx="550.92" cy="566.56" r="4.75" fill="#ff7f0e" stroke="#fff" stroke-width="0.7"/>
<circle cx="550.92" cy="566.86" r="4.75" fill="#ff7f0e" stroke="#fff" stroke-width="0.7"/>
<circle cx="627.27" cy="564.28" r="4.75" fill="#ff7f0e" stroke="#fff" stroke-width="0.7"/>
<circle cx="627.27" cy="564.73" r="4.75" fill="#ff7f0e" stroke="#fff" stroke-width="0.7"/>
<circle cx="627.27" cy="565.04" r="4.75" fill="#ff7f0e" stroke="#fff" stroke-width="0.7"/>
<circle cx="703.63" cy="563.21" r="4.75" fill="#ff7f0e" stroke="#fff" stroke-width="0.7"/>
<circle cx="703.63" cy="563.52" r="4.75" fill="#ff7f0e" stroke="#fff" stroke-width="0.7"/>
<circle cx="703.63" cy="563.82" r="4.75" fill="#ff7f0e" stroke="#fff" stroke-width="0.7"/>
<circle cx="779.98" cy="561.24" r="4.75" fill="#ff7f0e" stroke="#fff" stroke-width="0.7"/>
<circle cx="779.98" cy="562" r="4.75" fill="#ff7f0e" stroke="#fff" stroke-width="0.7"/>
<circle cx="779.98" cy="562.3" r="4.75" fill="#ff7f0e" stroke="#fff" stroke-width="0.7"/>
<polygon points="474.56,568.08 550.92,566.25 627.27,564.28 703.63,563.21 779.98,561.24 779.98,562.3 703.63,563.82 627.27,565.04 550.92,566.86 474.56,568.08" fill="#ff7f0e" fill-opacity="0.2" stroke="#ff7f0e" stroke-opacity="0.12" stroke-width="1"/>
<polygon points="474.56,561.7 478.39,568.08 474.56,574.46 470.73,568.08" fill="#2ca02c" stroke="#fff" stroke-width="0.7"/>
<polygon points="474.56,561.7 478.39,568.08 474.56,574.46 470.73,568.08" fill="#2ca02c" stroke="#fff" stroke-width="0.7"/>
<polygon points="474.56,561.7 478.39,568.08 474.56,574.46 470.73,568.08" fill="#2ca02c" stroke="#fff" stroke-width="0.7"/>
<polygon points="550.92,558.66 554.74,565.04 550.92,571.42 547.09,565.04" fill="#2ca02c" stroke="#fff" stroke-width="0.7"/>
<polygon points="550.92,558.96 554.74,565.34 550.92,571.72 547.09,565.34" fill="#2ca02c" stroke="#fff" stroke-width="0.7"/>
<polygon points="550.92,559.42 554.74,565.8 550.92,572.18 547.09,565.8" fill="#2ca02c" stroke="#fff" stroke-width="0.7"/>
<polygon points="627.27,556.38 631.1,562.76 627.27,569.14 623.44,562.76" fill="#2ca02c" stroke="#fff" stroke-width="0.7"/>
<polygon points="627.27,557.44 631.1,563.82 627.27,570.2 623.44,563.82" fill="#2ca02c" stroke="#fff" stroke-width="0.7"/>
<polygon points="627.27,558.2 631.1,564.58 627.27,570.96 623.44,564.58" fill="#2ca02c" stroke="#fff" stroke-width="0.7"/>
<polygon points="703.63,554.86 707.46,561.24 703.63,567.62 699.8,561.24" fill="#2ca02c" stroke="#fff" stroke-width="0.7"/>
<polygon points="703.63,556.07 707.46,562.45 703.63,568.83 699.8,562.45" fill="#2ca02c" stroke="#fff" stroke-width="0.7"/>
<polygon points="703.63,557.14 707.46,563.52 703.63,569.9 699.8,563.52" fill="#2ca02c" stroke="#fff" stroke-width="0.7"/>
<polygon points="779.98,552.88 783.81,559.26 779.98,565.64 776.16,559.26" fill="#2ca02c" stroke="#fff" stroke-width="0.7"/>
<polygon points="779.98,554.09 783.81,560.48 779.98,566.86 776.16,560.48" fill="#2ca02c" stroke="#fff" stroke-width="0.7"/>
<polygon points="779.98,555.62 783.81,562 779.98,568.38 776.16,562" fill="#2ca02c" stroke="#fff" stroke-width="0.7"/>
<polygon points="474.56,568.08 550.92,565.04 627.27,562.76 703.63,561.24 779.98,559.26 779.98,562 703.63,563.52 627.27,564.58 550.92,565.8 474.56,568.08" fill="#2ca02c" fill-opacity="0.2" stroke="#2ca02c" stroke-opacity="0.12" stroke-width="1"/>
<polygon points="469.81,562.26 479.31,562.26 474.56,571.76" fill="#d62728" stroke="#fff" stroke-width="0.7"/>
<polygon points="469.81,562.57 479.31,562.57 474.56,572.07" fill="#d62728" stroke="#fff" stroke-width="0.7"/>
<polygon points="469.81,562.57 479.31,562.57 474.56,572.07" fill="#d62728" stroke="#fff" stroke-width="0.7"/>
<polygon points="546.17,554.97 555.67,554.97 550.92,564.47" fill="#d62728" stroke="#fff" stroke-width="0.7"/>
<polygon points="546.17,557.09 555.67,557.09 550.92,566.59" fill="#d62728" stroke="#fff" stroke-width="0.7"/>
<polygon points="546.17,558.31 555.67,558.31 550.92,567.81" fill="#d62728" stroke="#fff" stroke-width="0.7"/>
<polygon points="622.52,526.38 632.02,526.38 627.27,535.88" fill="#d62728" stroke="#fff" stroke-width="0.7"/>
<polygon points="622.52,531.55 632.02,531.55 627.27,541.05" fill="#d62728" stroke="#fff" stroke-width="0.7"/>
<polygon points="622.52,542.04 632.02,542.04 627.27,551.54" fill="#d62728" stroke="#fff" stroke-width="0.7"/>
<polygon points="698.88,494.75 708.38,494.75 703.63,504.25" fill="#d62728" stroke="#fff" stroke-width="0.7"/>
<polygon points="698.88,502.81 708.38,502.81 703.63,512.31" fill="#d62728" stroke="#fff" stroke-width="0.7"/>
<polygon points="698.88,508.74 708.38,508.74 703.63,518.24" fill="#d62728" stroke="#fff" stroke-width="0.7"/>
<polygon points="775.23,425.41 784.73,425.41 779.98,434.91" fill="#d62728" stroke="#fff" stroke-width="0.7"/>
<polygon points="775.23,447.31 784.73,447.31 779.98,456.81" fill="#d62728" stroke="#fff" stroke-width="0.7"/>
<polygon points="775.23,459.32 784.73,459.32 779.98,468.82" fill="#d62728" stroke="#fff" stroke-width="0.7"/>
<polygon points="474.56,567.01 550.92,559.72 627.27,531.13 703.63,499.5 779.98,430.16 779.98,464.07 703.63,513.49 627.27,546.79 550.92,563.06 474.56,567.32" fill="#d62728" fill-opacity="0.2" stroke="#d62728" stroke-opacity="0.12" stroke-width="1"/>
<polyline points="474.56,567.98 550.92,546.44 627.27,516.07 703.63,470 779.98,390.98" fill="none" stroke="#1f77b4" stroke-width="2.2" stroke-linejoin="round" stroke-linecap="square"/>
<polyline points="474.56,568.08 550.92,566.56 627.27,564.68 703.63,563.52 779.98,561.84" fill="none" stroke="#ff7f0e" stroke-width="2.2" stroke-linejoin="round" stroke-linecap="square"/>
<polyline points="474.56,568.08 550.92,565.39 627.27,563.72 703.63,562.4 779.98,560.58" fill="none" stroke="#2ca02c" stroke-width="2.2" stroke-linejoin="round" stroke-linecap="square"/>
<polyline points="474.56,567.22 550.92,561.54 627.27,538.07 703.63,506.85 779.98,448.76" fill="none" stroke="#d62728" stroke-width="2.2" stroke-linejoin="round" stroke-linecap="square"/>
</g>
<rect x="459.25" y="326.3" width="336.15" height="252.65" fill="none" stroke="#000" stroke-width="1.1"/>
<line x1="474.56" y1="578.95" x2="474.56" y2="583.85" stroke="#000" stroke-width="1.1"/>
<line x1="550.92" y1="578.95" x2="550.92" y2="583.85" stroke="#000" stroke-width="1.1"/>
<line x1="627.27" y1="578.95" x2="627.27" y2="583.85" stroke="#000" stroke-width="1.1"/>
<line x1="703.63" y1="578.95" x2="703.63" y2="583.85" stroke="#000" stroke-width="1.1"/>
<line x1="779.98" y1="578.95" x2="779.98" y2="583.85" stroke="#000" stroke-width="1.1"/>
<line x1="50.2" y1="264.46" x2="55.1" y2="264.46" stroke="#000" stroke-width="1.1"/>
<text class="tk" x="41.9" y="269.56" text-anchor="middle" textLength="8.88" lengthAdjust="spacingAndGlyphs">0</text>
<line x1="50.2" y1="207.19" x2="55.1" y2="207.19" stroke="#000" stroke-width="1.1"/>
<text class="tk" x="35.1" y="212.29" text-anchor="middle" textLength="16.37" lengthAdjust="spacingAndGlyphs">10</text>
<line x1="50.2" y1="149.91" x2="55.1" y2="149.91" stroke="#000" stroke-width="1.1"/>
<text class="tk" x="36.2" y="155.01" text-anchor="middle" textLength="17.74" lengthAdjust="spacingAndGlyphs">20</text>
<line x1="50.2" y1="92.64" x2="55.1" y2="92.64" stroke="#000" stroke-width="1.1"/>
<text class="tk" x="35.3" y="97.74" text-anchor="middle" textLength="16.95" lengthAdjust="spacingAndGlyphs">30</text>
<line x1="50.2" y1="35.37" x2="55.1" y2="35.37" stroke="#000" stroke-width="1.1"/>
<text class="tk" x="36.2" y="40.47" text-anchor="middle" textLength="15.78" lengthAdjust="spacingAndGlyphs">40</text>
<line x1="454.35" y1="264.46" x2="459.25" y2="264.46" stroke="#000" stroke-width="1.1"/>
<line x1="454.35" y1="207.19" x2="459.25" y2="207.19" stroke="#000" stroke-width="1.1"/>
<line x1="454.35" y1="149.91" x2="459.25" y2="149.91" stroke="#000" stroke-width="1.1"/>
<line x1="454.35" y1="92.64" x2="459.25" y2="92.64" stroke="#000" stroke-width="1.1"/>
<line x1="454.35" y1="35.37" x2="459.25" y2="35.37" stroke="#000" stroke-width="1.1"/>
<line x1="50.2" y1="569.6" x2="55.1" y2="569.6" stroke="#000" stroke-width="1.1"/>
<text class="tk" x="34.6" y="574.7" text-anchor="middle" textLength="20.84" lengthAdjust="spacingAndGlyphs">0.0</text>
<line x1="50.2" y1="488.5" x2="55.1" y2="488.5" stroke="#000" stroke-width="1.1"/>
<text class="tk" x="33.5" y="493.6" text-anchor="middle" textLength="21.19" lengthAdjust="spacingAndGlyphs">0.1</text>
<line x1="50.2" y1="407.4" x2="55.1" y2="407.4" stroke="#000" stroke-width="1.1"/>
<text class="tk" x="34" y="412.5" text-anchor="middle" textLength="19.88" lengthAdjust="spacingAndGlyphs">0.2</text>
<line x1="50.2" y1="326.3" x2="55.1" y2="326.3" stroke="#000" stroke-width="1.1"/>
<text class="tk" x="34.3" y="331.4" text-anchor="middle" textLength="20.37" lengthAdjust="spacingAndGlyphs">0.3</text>
<line x1="454.35" y1="569.6" x2="459.25" y2="569.6" stroke="#000" stroke-width="1.1"/>
<text class="tk" x="445" y="574.7" text-anchor="middle" textLength="8.26" lengthAdjust="spacingAndGlyphs">0</text>
<line x1="454.35" y1="508.78" x2="459.25" y2="508.78" stroke="#000" stroke-width="1.1"/>
<text class="tk" x="444.5" y="513.88" text-anchor="middle" textLength="8.45" lengthAdjust="spacingAndGlyphs">4</text>
<line x1="454.35" y1="447.95" x2="459.25" y2="447.95" stroke="#000" stroke-width="1.1"/>
<text class="tk" x="444" y="453.05" text-anchor="middle" textLength="8.56" lengthAdjust="spacingAndGlyphs">8</text>
<line x1="454.35" y1="387.13" x2="459.25" y2="387.13" stroke="#000" stroke-width="1.1"/>
<text class="tk" x="439.1" y="392.23" text-anchor="middle" textLength="15.71" lengthAdjust="spacingAndGlyphs">12</text>
<line x1="454.35" y1="326.3" x2="459.25" y2="326.3" stroke="#000" stroke-width="1.1"/>
<text class="tk" x="439.4" y="331.4" text-anchor="middle" textLength="16.17" lengthAdjust="spacingAndGlyphs">16</text>
<text class="tk" x="70.9" y="296.1" text-anchor="middle" textLength="8.57" lengthAdjust="spacingAndGlyphs">0</text>
<text class="tk" x="146.6" y="296.1" text-anchor="middle" textLength="17.36" lengthAdjust="spacingAndGlyphs">24</text>
<text class="tk" x="224.01" y="296.1" text-anchor="middle" textLength="16.19" lengthAdjust="spacingAndGlyphs">48</text>
<text class="tk" x="299.04" y="296.1" text-anchor="middle" textLength="16.02" lengthAdjust="spacingAndGlyphs">72</text>
<text class="tk" x="376.75" y="296.1" text-anchor="middle" textLength="17.69" lengthAdjust="spacingAndGlyphs">96</text>
<text class="tk" x="474.9" y="296.1" text-anchor="middle" textLength="7.7" lengthAdjust="spacingAndGlyphs">0</text>
<text class="tk" x="550.79" y="296.1" text-anchor="middle" textLength="17.4" lengthAdjust="spacingAndGlyphs">24</text>
<text class="tk" x="627.35" y="296.1" text-anchor="middle" textLength="17.03" lengthAdjust="spacingAndGlyphs">48</text>
<text class="tk" x="702.55" y="296.1" text-anchor="middle" textLength="16.01" lengthAdjust="spacingAndGlyphs">72</text>
<text class="tk" x="779.41" y="296.1" text-anchor="middle" textLength="16.86" lengthAdjust="spacingAndGlyphs">96</text>
<text class="tk" x="70.9" y="600" text-anchor="middle" textLength="8.57" lengthAdjust="spacingAndGlyphs">0</text>
<text class="tk" x="146.6" y="600" text-anchor="middle" textLength="17.36" lengthAdjust="spacingAndGlyphs">24</text>
<text class="tk" x="224.01" y="600" text-anchor="middle" textLength="16.19" lengthAdjust="spacingAndGlyphs">48</text>
<text class="tk" x="299.04" y="600" text-anchor="middle" textLength="16.02" lengthAdjust="spacingAndGlyphs">72</text>
<text class="tk" x="376.75" y="600" text-anchor="middle" textLength="17.69" lengthAdjust="spacingAndGlyphs">96</text>
<text class="tk" x="474.9" y="600" text-anchor="middle" textLength="7.7" lengthAdjust="spacingAndGlyphs">0</text>
<text class="tk" x="550.79" y="600" text-anchor="middle" textLength="17.4" lengthAdjust="spacingAndGlyphs">24</text>
<text class="tk" x="627.35" y="600" text-anchor="middle" textLength="17.03" lengthAdjust="spacingAndGlyphs">48</text>
<text class="tk" x="702.55" y="600" text-anchor="middle" textLength="16.01" lengthAdjust="spacingAndGlyphs">72</text>
<text class="tk" x="779.41" y="600" text-anchor="middle" textLength="16.86" lengthAdjust="spacingAndGlyphs">96</text>
<text class="tt" x="54.3" y="17.2" textLength="16" lengthAdjust="spacingAndGlyphs">A</text>
<text class="tt" x="223.7" y="17.2" text-anchor="middle" textLength="134.1" lengthAdjust="spacingAndGlyphs">L-arabinose</text>
<text class="tt" x="454.8" y="17.2" textLength="16.3" lengthAdjust="spacingAndGlyphs">B</text>
<text class="tt" x="626.3" y="17.2" text-anchor="middle" textLength="114.8" lengthAdjust="spacingAndGlyphs">D-arabitol</text>
<text class="tt" x="52.8" y="320.2" textLength="16.7" lengthAdjust="spacingAndGlyphs">C</text>
<text class="tt" x="223.2" y="320.2" text-anchor="middle" textLength="71.7" lengthAdjust="spacingAndGlyphs">Xylitol</text>
<text class="tt" x="456.8" y="320.2" textLength="18.6" lengthAdjust="spacingAndGlyphs">D</text>
<text class="lb" x="223" y="620.2" text-anchor="middle" textLength="41.2" lengthAdjust="spacingAndGlyphs">Hours</text>
<text class="lb" x="627.2" y="620.2" text-anchor="middle" textLength="41.2" lengthAdjust="spacingAndGlyphs">Hours</text>
<text class="lb" transform="translate(12.1,151.2) rotate(-90)" text-anchor="middle" textLength="70.9" lengthAdjust="spacingAndGlyphs">Titer (g/L)</text>
<text class="lb" transform="translate(12.1,454.3) rotate(-90)" text-anchor="middle" textLength="70.9" lengthAdjust="spacingAndGlyphs">Titer (g/L)</text>
<text class="lb" style="font-size:14.6px" transform="translate(422.2,473.7) rotate(-90)">OD<tspan style="font-size:10.5px">600</tspan></text>
<rect x="623.9" y="31.2" width="164.1" height="90.1" rx="3.6" ry="3.6" fill="#fff" fill-opacity="0.8" stroke="#cccccc" stroke-width="1.1"/>
<rect x="639.36" y="39.51" width="9.79" height="9.79" fill="#1f77b4" stroke="#fff" stroke-width="0.7"/>
<text class="lg" x="669.6" y="47.9">WT</text>
<circle cx="644.25" cy="65.6" r="4.75" fill="#ff7f0e" stroke="#fff" stroke-width="0.7"/>
<text class="lg" x="669.6" y="69.4" textLength="45.3" lengthAdjust="spacingAndGlyphs">&#916;9990</text>
<polygon points="644.25,80.32 648.08,86.7 644.25,93.08 640.42,86.7" fill="#2ca02c" stroke="#fff" stroke-width="0.7"/>
<text class="lg" x="669.6" y="90.9" textLength="105.6" lengthAdjust="spacingAndGlyphs">&#916;9990 &#916;16850</text>
<polygon points="639.5,103.05 649,103.05 644.25,112.55" fill="#d62728" stroke="#fff" stroke-width="0.7"/>
<text class="lg" x="669.6" y="112.7" textLength="113" lengthAdjust="spacingAndGlyphs">&#916;9990 &#916;16850*</text>
</g>
</svg>
</body></html>
